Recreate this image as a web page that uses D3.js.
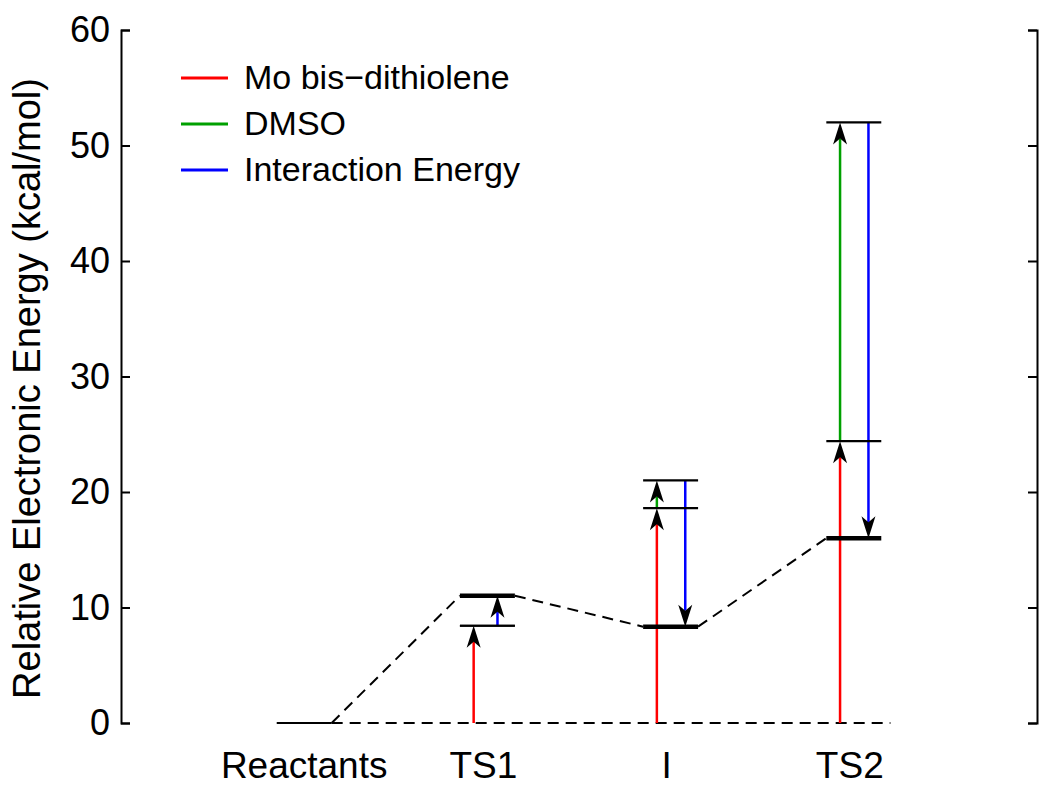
<!DOCTYPE html>
<html>
<head>
<meta charset="utf-8">
<script src="https://cdn.jsdelivr.net/npm/d3@7"></script>
<style>
  html, body { margin: 0; padding: 0; background: #fff; }
  svg { display: block; font-family: "Liberation Sans", Arial, Helvetica, sans-serif; }
</style>
</head>
<body>
<svg id="chart" width="1050" height="801"></svg>
<script>
// ---- data ----
const categories = ["Reactants", "TS1", "I", "TS2"];
const moBisDithiolene = [0, 8.42, 18.6, 24.4];
const dmso = [0, 0, 2.4, 27.6];
const interactionEnergy = [0, 2.6, -12.66, -36.0];
const yTicks = [0, 10, 20, 30, 40, 50, 60];
const legendLabels = ["Mo bis\u2212dithiolene", "DMSO", "Interaction Energy"];
const seriesColors = ["#ff0000", "#00a000", "#0000ff"];

// ---- layout ----
const svg = d3.select("#chart");
const x = d3.scaleLinear().domain([0, 5]).range([121, 1037]);
const y = d3.scaleLinear().domain([0, 60]).range([723, 30]);
const halfW = 0.15;      // half-width of a level bar (x units)
const offA = -0.075;     // column for Mo / DMSO arrows
const offB = 0.08;       // column for interaction arrows

const upper = categories.map((c, i) => moBisDithiolene[i] + dmso[i]);
const total = categories.map((c, i) => upper[i] + interactionEnergy[i]);

// ---- axes ----
const left = d3.axisLeft(y).tickValues(yTicks).tickSizeInner(-9).tickSizeOuter(-9).tickPadding(11);
const gl = svg.append("g").attr("transform", `translate(${x(0)},0)`).call(left);
gl.select(".domain").attr("stroke", "#000").attr("stroke-width", 2);
gl.selectAll(".tick line").attr("stroke", "#000").attr("stroke-width", 2);
gl.selectAll(".tick text").attr("font-size", 36).attr("fill", "#000")
  .attr("font-family", "Liberation Sans, Arial, sans-serif");

const right = d3.axisRight(y).tickValues(yTicks).tickSizeInner(-9).tickSizeOuter(-9).tickFormat("");
const gr = svg.append("g").attr("transform", `translate(${x(5)},0)`).call(right);
gr.select(".domain").attr("stroke", "#000").attr("stroke-width", 2);
gr.selectAll(".tick line").attr("stroke", "#000").attr("stroke-width", 2);

// y axis title
svg.append("text")
  .attr("transform", `translate(40,${(y(0) + y(60)) / 2 + 12}) rotate(-90)`)
  .attr("text-anchor", "middle")
  .attr("font-size", 38)
  .attr("fill", "#000")
  .text("Relative Electronic Energy (kcal/mol)");

// x category labels
svg.selectAll("text.cat").data(categories).join("text")
  .attr("class", "cat")
  .attr("x", (d, i) => x(i + 1) - (i === 0 ? 0 : 4))
  .attr("y", 778)
  .attr("text-anchor", "middle")
  .attr("font-size", 37)
  .attr("fill", "#000")
  .text(d => d);

// ---- dashed reference and connectors ----
const dash = "11,7";
svg.append("line")
  .attr("x1", x(1 + halfW)).attr("x2", x(4.2))
  .attr("y1", y(0)).attr("y2", y(0))
  .attr("stroke", "#000").attr("stroke-width", 2).attr("stroke-dasharray", dash);

for (let i = 0; i < categories.length - 1; i++) {
  svg.append("line")
    .attr("x1", x(i + 1 + halfW)).attr("y1", y(total[i]))
    .attr("x2", x(i + 2 - halfW)).attr("y2", y(total[i + 1]))
    .attr("stroke", "#000").attr("stroke-width", 2).attr("stroke-dasharray", dash);
}

// ---- arrows ----
function arrow(xv, v0, v1, color) {
  if (Math.abs(v1 - v0) < 1e-6) return;
  const px = x(xv), y0 = y(v0), y1 = y(v1);
  const dir = y1 < y0 ? 1 : -1;   // +1 means pointing up on screen
  const headL = 22, headW = 7, notch = 6;
  svg.append("line")
    .attr("x1", px).attr("x2", px)
    .attr("y1", y0).attr("y2", y1 + dir * (headL - notch))
    .attr("stroke", color).attr("stroke-width", 2.5);
  const p = d3.path();
  p.moveTo(px, y1);
  p.lineTo(px - headW, y1 + dir * headL);
  p.lineTo(px, y1 + dir * (headL - notch));
  p.lineTo(px + headW, y1 + dir * headL);
  p.closePath();
  svg.append("path").attr("d", p.toString()).attr("fill", "#000");
}

categories.forEach((c, i) => {
  if (i === 0) return;
  const cx = i + 1;
  arrow(cx + offA, 0, moBisDithiolene[i], seriesColors[0]);
  arrow(cx + offA, moBisDithiolene[i], upper[i], seriesColors[1]);
  arrow(cx + (i === 1 ? 0.055 : offB), upper[i], total[i], seriesColors[2]);
});

// ---- level bars ----
categories.forEach((c, i) => {
  const cx = i + 1;
  if (i > 0) {
    [moBisDithiolene[i], upper[i]].forEach(v => {
      svg.append("line")
        .attr("x1", x(cx - halfW)).attr("x2", x(cx + halfW))
        .attr("y1", y(v)).attr("y2", y(v))
        .attr("stroke", "#000").attr("stroke-width", 2.2);
    });
  }
  svg.append("line")
    .attr("x1", x(cx - halfW)).attr("x2", x(cx + halfW))
    .attr("y1", y(total[i])).attr("y2", y(total[i]))
    .attr("stroke", "#000").attr("stroke-width", i === 0 ? 2.2 : 4.5);
});

// ---- legend ----
const lg = svg.append("g");
legendLabels.forEach((t, i) => {
  const ly = 78 + i * 46;
  lg.append("line").attr("x1", 181).attr("x2", 228).attr("y1", ly).attr("y2", ly)
    .attr("stroke", seriesColors[i]).attr("stroke-width", 3);
  lg.append("text").attr("x", 244).attr("y", ly + 11)
    .attr("font-size", 34).attr("fill", "#000").text(t);
});
</script>
</body>
</html>
